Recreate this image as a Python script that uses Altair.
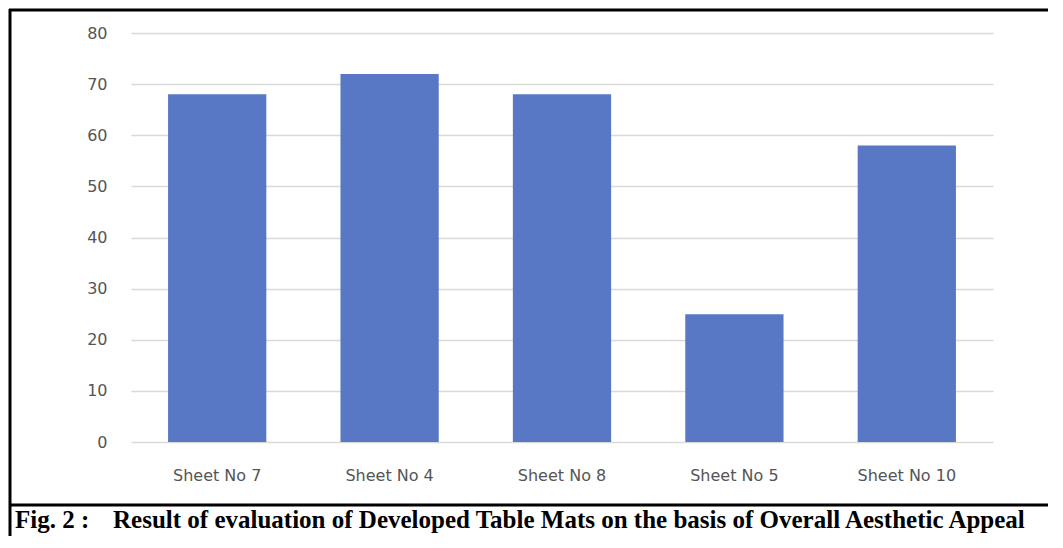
import altair as alt
import pandas as pd

categories = ["Sheet No 7", "Sheet No 4", "Sheet No 8", "Sheet No 5", "Sheet No 10"]
values = [68, 72, 68, 25, 58]
y_ticks = [0, 10, 20, 30, 40, 50, 60, 70, 80]
caption_fig = "Fig. 2 :"
caption_text = "Result of evaluation of Developed Table Mats on the basis of Overall Aesthetic Appeal"

df = pd.DataFrame({"sheet": categories, "score": values})
one = pd.DataFrame({"k": [0]})

W, H = 862, 409

bars = alt.Chart(df).mark_bar(color="#5878C6").encode(
    x=alt.X("sheet:N", sort=categories, title=None,
            scale=alt.Scale(paddingInner=0.43, paddingOuter=0.215),
            axis=alt.Axis(labelAngle=0, domain=False, ticks=False, labelPadding=25,
                          labelFont="DejaVu Sans", labelFontSize=16, labelColor="#555555")),
    y=alt.Y("score:Q", title=None,
            scale=alt.Scale(domain=[0, 80], nice=False),
            axis=alt.Axis(values=y_ticks, domain=False, ticks=False, labelPadding=24,
                          grid=True, gridColor="#D9D9D9", gridWidth=1.3,
                          labelFont="DejaVu Sans", labelFontSize=16, labelColor="#555555")),
)

frame = alt.Chart(one)
top_line = frame.mark_rule(color="black", strokeWidth=3, clip=False).encode(
    x=alt.value(-122), x2=alt.value(917), y=alt.value(-23))
left_line = frame.mark_rule(color="black", strokeWidth=3, clip=False).encode(
    x=alt.value(-121), y=alt.value(-24), y2=alt.value(503))
sep_line = frame.mark_rule(color="black", strokeWidth=3, clip=False).encode(
    x=alt.value(-122), x2=alt.value(917), y=alt.value(472))

cap1 = frame.mark_text(align="left", baseline="alphabetic", font="Liberation Serif",
                       fontWeight="bold", fontSize=25, color="black", clip=False).encode(
    x=alt.value(-116), y=alt.value(495), text=alt.value(caption_fig))
cap2 = frame.mark_text(align="left", baseline="alphabetic", font="Liberation Serif",
                       fontWeight="bold", fontSize=25, color="black", clip=False).encode(
    x=alt.value(-18), y=alt.value(495), text=alt.value(caption_text))

chart = alt.layer(bars, top_line, left_line, sep_line, cap1, cap2).properties(
    width=W, height=H,
    autosize=alt.AutoSizeParams(type="none"),
    padding={"left": 123, "top": 25, "right": 55, "bottom": 94},
    background="white",
).configure_view(stroke=None)

chart.save("out.html", embed_options={"renderer": "svg", "actions": False})
